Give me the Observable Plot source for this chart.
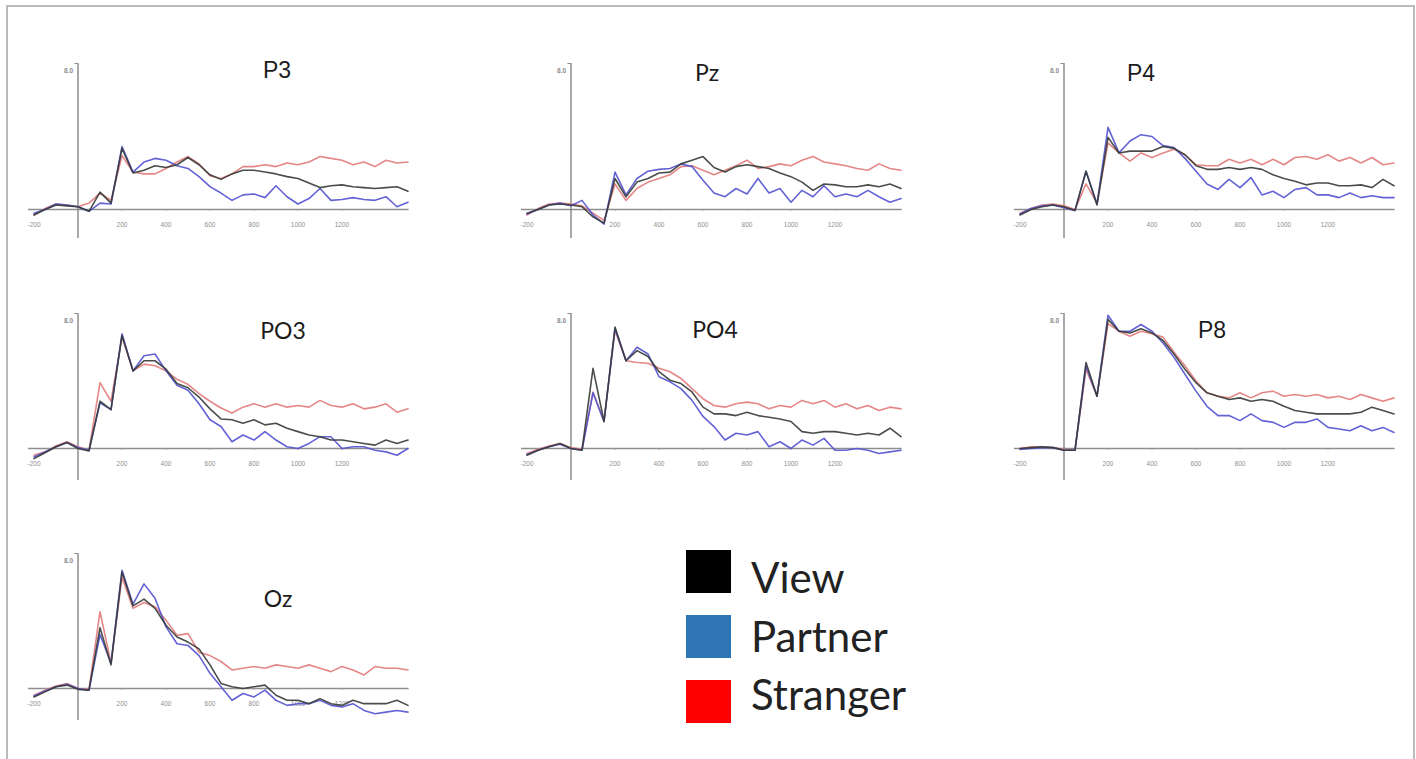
<!DOCTYPE html>
<html>
<head>
<meta charset="utf-8">
<script src="https://cdn.jsdelivr.net/npm/d3@7"></script>
<script src="https://cdn.jsdelivr.net/npm/@observablehq/plot@0.6"></script>
<style>
  html, body { margin: 0; padding: 0; background: #fff; }
  #page { position: relative; width: 1416px; height: 759px; overflow: hidden; background: #fff; }
  #frame { position: absolute; left: 6px; top: 5px; width: 1405px; height: 820px; border: 2px solid #bababa; }
  #page svg { position: absolute; }
</style>
</head>
<body>
<div id="page"><div id="frame"></div></div>
<script>
// Epoch time points (ms relative to stimulus onset)
const times = [-200, -150, -100, -50, 0, 50, 100, 150, 200, 250, 300, 350, 400, 450, 500, 550, 600,
  650, 700, 750, 800, 850, 900, 950, 1000, 1050, 1100, 1150, 1200, 1250, 1300, 1350, 1400, 1450, 1500];

// Axis labelling
const xTicks = [-200, 200, 400, 600, 800, 1000, 1200];
const yTicks = [8];

// Conditions and colours
const conditions = ["View", "Partner", "Stranger"];
const lineColors = ["#353b37", "#5252d0", "#e27a7a"];
const legendColors = ["#000000", "#2e75b6", "#ff0000"];
const drawOrder = ["Stranger", "Partner", "View"];

// Grand-average amplitudes (µV) per electrode and condition
const p3View     = [-0.3, 0.0, 0.25, 0.2, 0.15, -0.1, 0.95, 0.35, 3.35, 2.0, 2.15, 2.4, 2.3, 2.45, 2.85, 2.45, 1.9, 1.65, 1.95, 2.15, 2.15, 2.05, 1.95, 1.8, 1.7, 1.45, 1.2, 1.3, 1.35, 1.25, 1.2, 1.15, 1.2, 1.25, 1.0];
const p3Partner  = [-0.2, 0.0, 0.3, 0.25, 0.15, -0.1, 0.35, 0.3, 3.45, 2.05, 2.6, 2.8, 2.7, 2.4, 2.25, 1.8, 1.25, 0.9, 0.5, 0.8, 0.85, 0.65, 1.3, 0.7, 0.3, 0.6, 1.15, 0.5, 0.55, 0.65, 0.55, 0.5, 0.7, 0.15, 0.4];
const p3Stranger = [-0.3, 0.05, 0.3, 0.25, 0.15, 0.35, 0.9, 0.5, 2.95, 2.05, 1.95, 1.95, 2.25, 2.6, 2.9, 2.5, 1.85, 1.7, 1.95, 2.35, 2.35, 2.45, 2.35, 2.55, 2.45, 2.6, 2.9, 2.8, 2.7, 2.45, 2.6, 2.35, 2.7, 2.55, 2.6];

const pzView     = [-0.2, 0.0, 0.25, 0.3, 0.25, 0.15, -0.4, -0.75, 1.7, 0.7, 1.5, 1.7, 2.0, 2.05, 2.5, 2.7, 2.9, 2.3, 2.05, 2.35, 2.45, 2.35, 2.25, 2.0, 1.8, 1.5, 1.05, 1.4, 1.35, 1.25, 1.25, 1.35, 1.25, 1.4, 1.15];
const pzPartner  = [-0.25, 0.0, 0.25, 0.35, 0.2, 0.5, -0.3, -0.8, 2.05, 0.8, 1.7, 2.1, 2.2, 2.25, 2.5, 2.35, 1.6, 0.9, 0.7, 1.15, 0.85, 1.7, 0.9, 1.15, 0.4, 1.05, 0.7, 1.3, 0.7, 0.85, 0.7, 1.05, 0.7, 0.4, 0.6];
const pzStranger = [-0.3, 0.05, 0.3, 0.35, 0.3, 0.2, -0.2, -0.6, 1.4, 0.5, 1.15, 1.5, 1.7, 1.9, 2.35, 2.4, 2.15, 1.9, 2.15, 2.4, 2.7, 2.25, 2.35, 2.5, 2.4, 2.7, 2.9, 2.6, 2.5, 2.4, 2.25, 2.15, 2.5, 2.25, 2.15];

const p4View     = [-0.3, 0.0, 0.15, 0.25, 0.15, -0.05, 2.1, 0.25, 3.95, 3.1, 3.2, 3.2, 3.2, 3.45, 3.35, 3.0, 2.4, 2.2, 2.2, 2.3, 2.2, 2.3, 2.2, 1.9, 1.7, 1.55, 1.35, 1.45, 1.45, 1.3, 1.3, 1.35, 1.2, 1.65, 1.3];
const p4Partner  = [-0.25, 0.05, 0.2, 0.25, 0.1, -0.05, 2.1, 0.3, 4.5, 3.1, 3.75, 4.1, 4.0, 3.5, 3.4, 2.8, 2.1, 1.4, 1.1, 1.65, 1.2, 1.75, 0.8, 1.0, 0.65, 1.1, 1.2, 0.8, 0.8, 0.65, 0.9, 0.65, 0.75, 0.65, 0.65];
const p4Stranger = [-0.2, 0.05, 0.25, 0.3, 0.2, 0.0, 1.4, 0.35, 3.65, 3.1, 2.65, 3.1, 2.85, 3.1, 3.3, 3.0, 2.45, 2.4, 2.4, 2.75, 2.55, 2.75, 2.45, 2.75, 2.45, 2.85, 2.9, 2.75, 3.0, 2.65, 2.85, 2.55, 2.85, 2.45, 2.55];

const po3View     = [-0.6, -0.25, 0.1, 0.35, 0.0, -0.15, 2.8, 2.3, 6.7, 4.6, 5.2, 5.2, 4.7, 3.85, 3.6, 3.05, 2.35, 1.75, 1.7, 1.5, 1.7, 1.4, 1.5, 1.2, 1.0, 0.8, 0.7, 0.5, 0.5, 0.4, 0.3, 0.2, 0.5, 0.3, 0.5];
const po3Partner  = [-0.5, -0.2, 0.1, 0.35, 0.05, -0.1, 2.7, 2.3, 6.8, 4.6, 5.5, 5.6, 4.6, 3.75, 3.45, 2.65, 1.7, 1.3, 0.4, 0.8, 0.5, 1.0, 0.5, 0.1, 0.0, 0.3, 0.7, 0.7, 0.0, 0.1, 0.1, -0.1, -0.2, -0.4, 0.0];
const po3Stranger = [-0.4, -0.2, 0.15, 0.4, 0.1, -0.1, 3.9, 2.8, 6.6, 4.6, 5.0, 4.9, 4.6, 4.1, 3.8, 3.25, 2.8, 2.4, 2.1, 2.45, 2.65, 2.45, 2.65, 2.45, 2.55, 2.45, 2.85, 2.55, 2.45, 2.65, 2.35, 2.45, 2.65, 2.15, 2.35];

const po4View     = [-0.4, -0.1, 0.1, 0.3, 0.0, -0.1, 4.75, 1.6, 7.2, 5.2, 5.8, 5.45, 4.55, 4.05, 3.85, 3.35, 2.45, 2.05, 2.05, 1.95, 2.15, 1.95, 1.85, 1.75, 1.6, 1.0, 0.9, 1.0, 1.0, 0.9, 0.8, 0.9, 0.8, 1.2, 0.7];
const po4Partner  = [-0.35, -0.1, 0.1, 0.25, 0.0, -0.1, 3.3, 1.6, 7.1, 5.2, 6.0, 5.6, 4.25, 3.95, 3.55, 2.85, 1.9, 1.3, 0.5, 0.9, 0.8, 1.0, 0.1, 0.4, 0.0, 0.5, 0.2, 0.6, -0.1, -0.1, 0.0, -0.1, -0.3, -0.2, -0.1];
const po4Stranger = [-0.3, -0.05, 0.15, 0.3, 0.05, -0.05, 3.35, 1.6, 7.0, 5.2, 5.1, 5.05, 4.75, 4.55, 4.15, 3.55, 2.95, 2.55, 2.45, 2.65, 2.75, 2.65, 2.35, 2.55, 2.45, 2.85, 2.65, 2.85, 2.45, 2.65, 2.35, 2.55, 2.25, 2.45, 2.35];

const p8View     = [0.0, 0.05, 0.1, 0.05, -0.1, -0.1, 5.1, 3.1, 7.65, 6.95, 6.85, 7.1, 6.85, 6.4, 5.6, 4.7, 3.9, 3.3, 3.1, 2.9, 3.0, 2.8, 2.9, 2.8, 2.5, 2.25, 2.15, 2.05, 2.05, 2.05, 2.05, 2.15, 2.45, 2.25, 2.05];
const p8Partner  = [-0.05, 0.0, 0.05, 0.05, -0.1, -0.1, 4.9, 3.1, 7.9, 6.95, 6.95, 7.35, 6.95, 6.25, 5.4, 4.4, 3.4, 2.5, 1.95, 1.95, 1.65, 2.05, 1.65, 1.55, 1.25, 1.55, 1.55, 1.75, 1.25, 1.15, 1.05, 1.35, 1.05, 1.25, 0.95];
const p8Stranger = [0.0, 0.1, 0.1, 0.05, -0.05, -0.1, 4.7, 3.1, 7.4, 6.95, 6.65, 6.95, 6.8, 6.6, 5.7, 4.9, 4.0, 3.3, 3.1, 3.0, 3.3, 3.0, 3.3, 3.4, 3.1, 3.2, 3.1, 3.2, 3.0, 3.1, 2.9, 3.2, 3.0, 2.8, 3.0];

const ozView     = [-0.5, -0.2, 0.1, 0.2, -0.05, -0.1, 3.6, 1.4, 6.9, 4.9, 5.3, 4.75, 3.75, 3.05, 2.75, 2.35, 1.4, 0.3, 0.1, 0.0, 0.1, 0.2, -0.4, -0.7, -0.7, -0.9, -0.6, -0.9, -1.0, -0.7, -0.9, -0.9, -0.9, -0.7, -1.0];
const ozPartner  = [-0.45, -0.15, 0.1, 0.25, 0.0, -0.1, 3.2, 1.5, 7.0, 5.0, 6.2, 5.35, 3.65, 2.65, 2.55, 1.95, 0.9, 0.1, -0.7, -0.3, -0.5, -0.1, -0.7, -1.0, -0.9, -0.9, -0.7, -1.0, -1.1, -0.9, -1.3, -1.5, -1.4, -1.3, -1.4];
const ozStranger = [-0.4, -0.1, 0.15, 0.3, 0.0, -0.05, 4.55, 1.5, 6.6, 4.75, 5.1, 4.85, 4.05, 3.15, 3.25, 2.15, 1.95, 1.6, 1.1, 1.2, 1.3, 1.2, 1.4, 1.3, 1.2, 1.4, 1.2, 1.0, 1.3, 1.1, 0.8, 1.3, 1.2, 1.2, 1.1];

// Electrode panels: grid cell, title font and title placement
const electrodes = [
  {name: "P3",  series: [p3View, p3Partner, p3Stranger],    col: 0, row: 0, font: "Liberation Sans, Arial, sans-serif", tx: 277,  ty: 78},
  {name: "Pz",  series: [pzView, pzPartner, pzStranger],    col: 1, row: 0, font: "Lato, Carlito, sans-serif",          tx: 707,  ty: 81},
  {name: "P4",  series: [p4View, p4Partner, p4Stranger],    col: 2, row: 0, font: "Liberation Sans, Arial, sans-serif", tx: 1141, ty: 81},
  {name: "PO3", series: [po3View, po3Partner, po3Stranger], col: 0, row: 1, font: "Lato, Carlito, sans-serif",          tx: 283,  ty: 339},
  {name: "PO4", series: [po4View, po4Partner, po4Stranger], col: 1, row: 1, font: "Lato, Carlito, sans-serif",          tx: 715,  ty: 338},
  {name: "P8",  series: [p8View, p8Partner, p8Stranger],    col: 2, row: 1, font: "Liberation Sans, Arial, sans-serif", tx: 1212, ty: 338},
  {name: "Oz",  series: [ozView, ozPartner, ozStranger],    col: 0, row: 2, font: "Lato, Carlito, sans-serif",          tx: 278,  ty: 607}
];

// Page geometry: x pixel of t = 0 per column, pixel rows for 8 µV / 0 µV / axis end
const colZeroX = [77, 570, 1063];
const rowGeom = [
  {top: 63, zero: 209, bottom: 238},
  {top: 313, zero: 448, bottom: 480},
  {top: 553, zero: 688, bottom: 720}
];
const pxPerMs = 0.22;
const xDomain = [-225, 1505];
const yMax = 8;

const page = document.getElementById("page");

for (const e of electrodes) {
  const g = rowGeom[e.row];
  const yMin = -(g.bottom - g.zero) / (g.zero - g.top) * yMax;
  const mL = 30, mR = 10, mT = 15, mB = 25;
  const frameW = (xDomain[1] - xDomain[0]) * pxPerMs;
  const frameH = g.bottom - g.top;

  const rows = [];
  conditions.forEach((c, i) => {
    e.series[i].forEach((v, k) => rows.push({t: times[k], v, cond: c}));
  });

  const lineMarks = drawOrder.map(c =>
    Plot.line(rows.filter(d => d.cond === c), {
      x: "t", y: "v",
      stroke: lineColors[conditions.indexOf(c)],
      strokeWidth: 1.6, strokeOpacity: 0.9, curve: "linear"
    })
  );

  const chart = Plot.plot({
    width: mL + frameW + mR,
    height: mT + frameH + mB,
    marginLeft: mL, marginRight: mR, marginTop: mT, marginBottom: mB,
    style: {background: "transparent", overflow: "visible"},
    x: {domain: xDomain, axis: null},
    y: {domain: [yMin, yMax], axis: null},
    marks: [
      Plot.ruleY([0], {stroke: "#8e8e8e", strokeWidth: 1.3}),
      Plot.ruleX([0], {stroke: "#7c7c7c", strokeWidth: 1.3}),
      Plot.ruleX(xTicks.filter(d => d > 0), {x: d => d, y1: 0, y2: yMin * 0.06, stroke: "#9a9a9a"}),
      Plot.ruleY(yTicks, {y: d => d, x1: -14, x2: 0, stroke: "#8a8a8a"}),
      Plot.text(yTicks, {x: 0, y: d => d, text: d => d.toFixed(1), dx: -5, dy: 7, textAnchor: "end",
        fontSize: 6.5, fontWeight: "bold", fill: "#8a8a8a", fontFamily: "Liberation Sans, Arial, sans-serif"}),
      Plot.text(xTicks, {x: d => d, y: 0, text: d => String(d), dy: 15,
        fontSize: 6.5, fill: "#8f8f8f", fontFamily: "Liberation Sans, Arial, sans-serif"}),
      ...lineMarks
    ]
  });
  chart.style.left = (colZeroX[e.col] + xDomain[0] * pxPerMs - mL) + "px";
  chart.style.top = (g.top - mT) + "px";
  page.appendChild(chart);
}

// Overlay for electrode titles and the condition legend
const overlay = d3.select(page).append("svg")
  .attr("width", 1416).attr("height", 759)
  .style("left", "0px").style("top", "0px");

overlay.selectAll("text.title").data(electrodes).join("text")
  .attr("class", "title")
  .attr("x", d => d.tx).attr("y", d => d.ty)
  .attr("text-anchor", "middle")
  .attr("font-family", d => d.font)
  .attr("font-size", 23)
  .attr("fill", "#1c1c1c")
  .text(d => d.name);

const legendTop = [550, 615, 680];
const legendBase = [593, 652, 710];
const legend = overlay.append("g");
legend.selectAll("rect").data(conditions).join("rect")
  .attr("x", 686).attr("y", (d, i) => legendTop[i])
  .attr("width", 45).attr("height", 43)
  .attr("fill", (d, i) => legendColors[i]);
legend.selectAll("text").data(conditions).join("text")
  .attr("x", 751).attr("y", (d, i) => legendBase[i])
  .attr("font-family", "Lato, Carlito, sans-serif")
  .attr("font-size", 42)
  .attr("fill", "#222")
  .text(d => d);
</script>
</body>
</html>
